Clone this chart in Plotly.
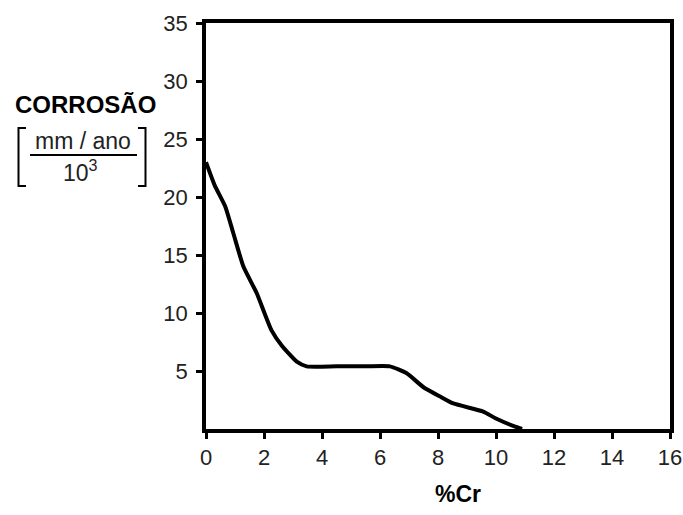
import plotly.graph_objects as go

# Corrosion rate vs chromium content
cr_pct = [0.0, 0.3, 0.66, 0.94, 1.29, 1.75, 2.26, 2.61, 3.13, 3.47, 4.5, 5.5, 6.34, 6.92, 7.5, 8.07, 8.53, 9.56, 10.0, 10.66, 10.9]
corrosion = [23.0, 21.0, 19.2, 16.9, 14.0, 11.7, 8.5, 7.2, 5.8, 5.4, 5.4, 5.4, 5.4, 4.8, 3.6, 2.8, 2.2, 1.5, 0.9, 0.2, 0.0]

x_ticks = [0, 2, 4, 6, 8, 10, 12, 14, 16]
y_ticks = [5, 10, 15, 20, 25, 30, 35]

FONT = "Liberation Sans, Arial, sans-serif"

W, H = 683, 515
L, R, T, B = 206, 13, 23, 86
pw, ph = W - L - R, H - T - B


def px(x):
    return (x - L) / pw


def py(y):
    return (H - B - y) / ph


fig = go.Figure()
fig.add_trace(go.Scatter(
    x=cr_pct, y=corrosion, mode="lines",
    line=dict(color="black", width=4, shape="spline", smoothing=0.5),
    hoverinfo="skip", showlegend=False,
))

axis_common = dict(
    showgrid=False, zeroline=False, showline=True, linecolor="black",
    linewidth=3.5, mirror=True, ticks="outside", ticklen=6, tickwidth=3,
    tickcolor="black", automargin=False,
    tickfont=dict(family=FONT, size=22, color="#222"),
)
fig.update_xaxes(range=[0, 16], tickvals=x_ticks, ticklabelstandoff=0, **axis_common)
fig.update_yaxes(range=[0, 35], tickvals=y_ticks, ticklabelstandoff=4, **axis_common)

shapes = []
# square brackets around the unit fraction
for xv, xs in ((18.5, 26), (145.5, 138)):
    shapes.append(dict(type="path", xref="paper", yref="paper",
                       path=f"M {px(xs)},{py(128)} L {px(xv)},{py(128)} L {px(xv)},{py(186)} L {px(xs)},{py(186)}",
                       line=dict(color="black", width=2)))
# fraction bar
shapes.append(dict(type="line", xref="paper", yref="paper",
                   x0=px(30), x1=px(137), y0=py(155), y1=py(155),
                   line=dict(color="black", width=2)))


def label(text, x, y, size, color="black"):
    return dict(text=text, x=px(x), y=py(y), xref="paper", yref="paper",
                xanchor="center", yanchor="middle", showarrow=False,
                font=dict(family=FONT, size=size, color=color))


annotations = [
    label("<b>CORROSÃO</b>", 85, 105, 24),
    label("mm / ano", 83.5, 141, 23, "#222"),
    label("10<sup>3</sup>", 80, 171, 23, "#222"),
    label("<b>%Cr</b>", 458, 494, 23),
]

fig.update_layout(
    width=W, height=H, margin=dict(l=L, r=R, t=T, b=B),
    paper_bgcolor="white", plot_bgcolor="white",
    shapes=shapes, annotations=annotations,
)

fig.write_html("out.html")
